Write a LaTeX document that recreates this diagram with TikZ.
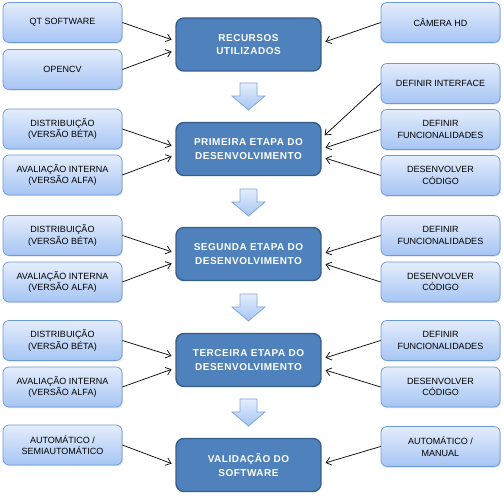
\documentclass[tikz,border=0pt]{standalone}
\usepackage{fontspec}
\setmainfont{Liberation Sans}
\newfontfamily\headfont[LetterSpace=5]{Liberation Sans}
\usepackage{xcolor}
\usepackage{tikz}
\usetikzlibrary{shapes,arrows,positioning,calc,shadows,arrows.meta}

\definecolor{stageblue}{HTML}{4F81BD}
\definecolor{stageedge}{HTML}{385D8A}
\definecolor{itemtop}{HTML}{E4EDFC}
\definecolor{itembottom}{HTML}{A6C5F4}
\definecolor{itemedge}{HTML}{6B9AD6}
\definecolor{downedge}{HTML}{7FA6D9}

\tikzset{
    stage/.style={draw=stageedge, line width=1.4pt, fill=stageblue, rounded corners=8pt,
        minimum width=145pt, minimum height=53pt, inner sep=0pt, align=center,
        text=white, font=\headfont\bfseries\fontsize{10}{13.3}\selectfont},
    item/.style={draw=itemedge, line width=0.7pt, top color=itemtop, bottom color=itembottom,
        rounded corners=6pt, minimum width=119pt, minimum height=40pt, inner sep=0pt,
        align=center, font=\fontsize{9}{11.5}\selectfont,
        drop shadow={shadow xshift=1pt, shadow yshift=-1.2pt, opacity=0.25}},
    feed/.style={-{Straight Barb[length=5pt,width=8pt]}, line width=0.7pt, shorten >=4pt},
    down/.style={draw=downedge, line width=0.8pt, top color=itemtop, bottom color=itembottom}
}

\begin{document}
\begin{tikzpicture}[x=1pt, y=1pt]
    \useasboundingbox (0,0) rectangle (504,497);

    % Stages
    \node[stage] (rec)  at (248.5,452.5) {RECURSOS\\UTILIZADOS};
    \node[stage] (prim) at (248.5,348)   {PRIMEIRA  ETAPA  DO\\DESENVOLVIMENTO};
    \node[stage] (seg)  at (248.5,243)   {SEGUNDA  ETAPA  DO\\DESENVOLVIMENTO};
    \node[stage] (terc) at (248.5,137)   {TERCEIRA  ETAPA  DO\\DESENVOLVIMENTO};
    \node[stage] (val)  at (248.5,32)    {VALIDAÇÃO  DO\\SOFTWARE};

    % Down arrows
    \foreach \t in {414,308,203,98} {
        \draw[down] (240,\t) -- ++(17,0) -- ++(0,-13) -- ++(8,0) -- ++(-16.5,-14)
            -- ++(-16.5,14) -- ++(8,0) -- cycle;
    }

    % Left items
    \node[item] (qt)    at (62.5,474.5) {QT SOFTWARE};
    \node[item] (cv)    at (62.5,427.5) {OPENCV};
    \node[item] (dista) at (62.5,368)   {DISTRIBUIÇÃO\\(VERSÃO BÉTA)};
    \node[item] (avala) at (62.5,322)   {AVALIAÇÃO  INTERNA\\(VERSÃO ALFA)};
    \node[item] (distb) at (62.5,261.5) {DISTRIBUIÇÃO\\(VERSÃO BÉTA)};
    \node[item] (avalb) at (62.5,215)   {AVALIAÇÃO  INTERNA\\(VERSÃO ALFA)};
    \node[item] (distc) at (62.5,156.5) {DISTRIBUIÇÃO\\(VERSÃO BÉTA)};
    \node[item] (avalc) at (62.5,110)   {AVALIAÇÃO  INTERNA\\(VERSÃO ALFA)};
    \node[item] (semi)  at (62.5,52)    {AUTOMÁTICO  /\\SEMIAUTOMÁTICO};

    % Right items
    \node[item] (cam)   at (440.5,474.5) {CÂMERA HD};
    \node[item] (inter) at (440.5,413.5) {DEFINIR INTERFACE};
    \node[item] (funca) at (440.5,367.5) {DEFINIR\\FUNCIONALIDADES};
    \node[item] (desa)  at (440.5,321.5) {DESENVOLVER\\CÓDIGO};
    \node[item] (funcb) at (440.5,261.5) {DEFINIR\\FUNCIONALIDADES};
    \node[item] (desb)  at (440.5,215)   {DESENVOLVER\\CÓDIGO};
    \node[item] (funcc) at (440.5,156.5) {DEFINIR\\FUNCIONALIDADES};
    \node[item] (desc)  at (440.5,110)   {DESENVOLVER\\CÓDIGO};
    \node[item] (man)   at (440.5,50.5)  {AUTOMÁTICO  /\\MANUAL};

    % Connectors
    \draw[feed] (qt.east)    -- ([yshift=3.5pt]rec.west);
    \draw[feed] (cv.east)    -- ([yshift=-5.5pt]rec.west);
    \draw[feed] (cam.west)   -- ([yshift=1.5pt]rec.east);
    \draw[feed] (dista.east) -- ([yshift=2pt]prim.west);
    \draw[feed] (avala.east) -- ([yshift=-6pt]prim.west);
    \draw[feed] (inter.west) -- ([yshift=11pt]prim.east);
    \draw[feed] (funca.west) -- (prim.east);
    \draw[feed] (desa.west)  -- ([yshift=-8pt]prim.east);
    \draw[feed] (distb.east) -- ([yshift=1pt]seg.west);
    \draw[feed] (avalb.east) -- ([yshift=-8pt]seg.west);
    \draw[feed] (funcb.west) -- ([yshift=0pt]seg.east);
    \draw[feed] (desb.west)  -- ([yshift=-9pt]seg.east);
    \draw[feed] (distc.east) -- ([yshift=3pt]terc.west);
    \draw[feed] (avalc.east) -- ([yshift=-8pt]terc.west);
    \draw[feed] (funcc.west) -- ([yshift=1pt]terc.east);
    \draw[feed] (desc.west)  -- ([yshift=-9pt]terc.east);
    \draw[feed] (semi.east)  -- (val.west);
    \draw[feed] (man.west)   -- ([yshift=1pt]val.east);
\end{tikzpicture}
\end{document}
